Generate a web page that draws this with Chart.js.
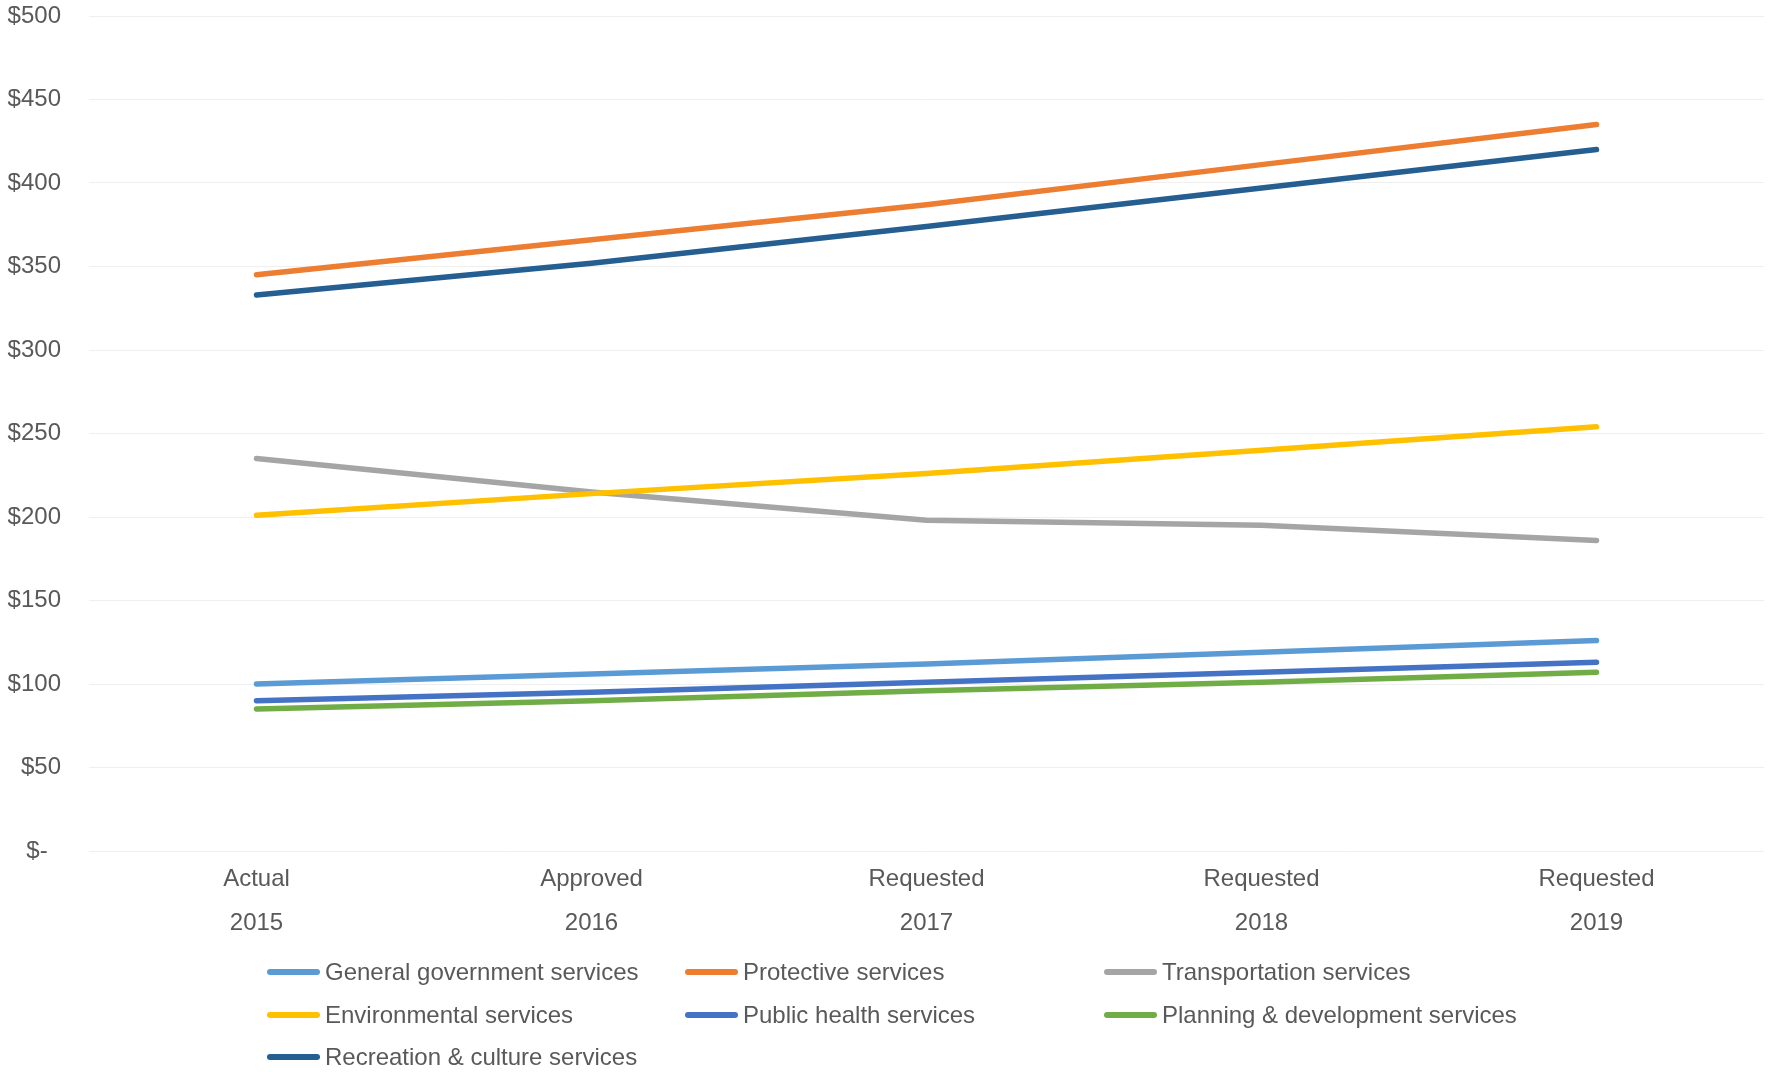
<!DOCTYPE html>
<html>
<head>
<meta charset="utf-8">
<script src="https://cdn.jsdelivr.net/npm/chart.js@4"></script>
<style>
  html, body { margin: 0; padding: 0; background: #fff; }
  #wrap { position: relative; width: 1771px; height: 1072px; }
  #c { position: absolute; left: 0; top: 0; }
  #legend { position: absolute; left: 0; top: 0; width: 1771px; height: 1072px; pointer-events: none;
            font-family: "Liberation Sans", Arial, sans-serif; font-size: 24px; color: #595959; }
  .item { position: absolute; display: flex; align-items: center; white-space: nowrap; transform: translateY(-50%); }
  .swatch { width: 53px; height: 6px; border-radius: 3px; margin-right: 5px; }
</style>
</head>
<body>
<div id="wrap">
  <canvas id="c" width="1771" height="1072"></canvas>
  <div id="legend"></div>
</div>
<script>
// ---- data ----
const categories = [["Actual", "2015"], ["Approved", "2016"], ["Requested", "2017"], ["Requested", "2018"], ["Requested", "2019"]];
const seriesNames = [
  "General government services",
  "Protective services",
  "Transportation services",
  "Environmental services",
  "Public health services",
  "Planning & development services",
  "Recreation & culture services"
];
const generalGovernment = [100, 106, 112, 119, 126];
const protective = [345, 366, 387, 411, 435];
const transportation = [235, 215, 198, 195, 186];
const environmental = [201, 214, 226, 240, 254];
const publicHealth = [90, 95, 101, 107, 113];
const planningDevelopment = [85, 90, 96, 101, 107];
const recreationCulture = [333, 352, 374, 397, 420];
const yTicks = [0, 50, 100, 150, 200, 250, 300, 350, 400, 450, 500];

const seriesValues = [generalGovernment, protective, transportation, environmental, publicHealth, planningDevelopment, recreationCulture];
const seriesColors = ["#5B9BD5", "#ED7D31", "#A5A5A5", "#FFC000", "#4472C4", "#70AD47", "#255E91"];

const FONT = '"Liberation Sans", Arial, sans-serif';
const TEXT = '#595959';

const datasets = seriesNames.map((name, i) => ({
  label: name,
  data: seriesValues[i],
  borderColor: seriesColors[i],
  backgroundColor: seriesColors[i],
  borderWidth: 5.5,
  borderCapStyle: 'round',
  borderJoinStyle: 'round',
  pointRadius: 0,
  pointHoverRadius: 0,
  tension: 0,
  fill: false,
  order: -i
}));

new Chart(document.getElementById('c'), {
  type: 'line',
  data: { labels: categories, datasets },
  options: {
    responsive: false,
    animation: false,
    events: [],
    layout: { padding: { top: 16, right: 7, left: 0, bottom: 0 } },
    plugins: { legend: { display: false }, tooltip: { enabled: false }, title: { display: false } },
    scales: {
      x: {
        type: 'category',
        offset: true,
        grid: { display: false, drawTicks: false },
        border: { display: false },
        ticks: {
          color: TEXT,
          padding: 6,
          maxRotation: 0,
          autoSkip: false,
          font: { family: FONT, size: 24, lineHeight: 44 / 24 }
        },
        afterFit: (s) => { s.height = 1072 - 851; s.paddingLeft = 0; s.paddingRight = 0; }
      },
      y: {
        min: 0,
        max: 500,
        afterBuildTicks: (s) => { s.ticks = yTicks.map(v => ({ value: v })); },
        grid: { color: '#EFEFEF', lineWidth: 1, drawTicks: false },
        border: { display: false },
        ticks: {
          color: TEXT,
          padding: 28,
          font: { family: FONT, size: 24 },
          callback: (v) => v === 0 ? '$-  ' : '$' + v
        },
        afterFit: (s) => { s.width = 89; s.paddingTop = 0; s.paddingBottom = 0; }
      }
    }
  }
});

// ---- legend (HTML) ----
const legendCols = [267, 685, 1104];
const legendRows = [972, 1015, 1057];
const legend = document.getElementById('legend');
seriesNames.forEach((name, i) => {
  const el = document.createElement('div');
  el.className = 'item';
  el.style.left = legendCols[i % 3] + 'px';
  el.style.top = legendRows[Math.floor(i / 3)] + 'px';
  const sw = document.createElement('span');
  sw.className = 'swatch';
  sw.style.background = seriesColors[i];
  const tx = document.createElement('span');
  tx.textContent = name;
  el.appendChild(sw);
  el.appendChild(tx);
  legend.appendChild(el);
});
</script>
</body>
</html>
